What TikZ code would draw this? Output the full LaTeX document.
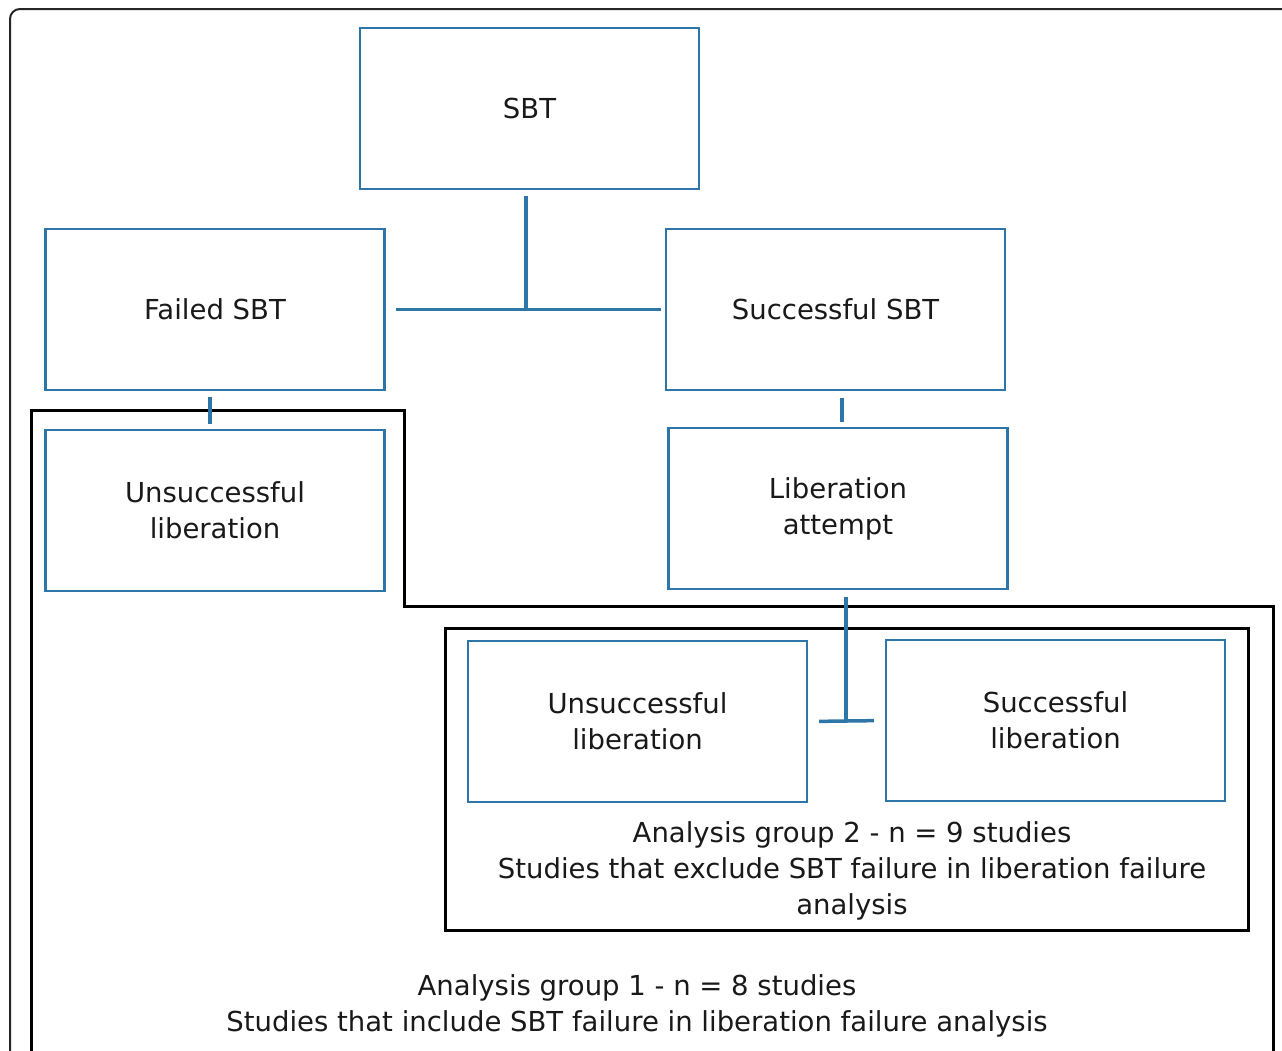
\documentclass[tikz,border=0pt]{standalone}
\usepackage{fontspec}
\setmainfont{DejaVu Sans}
\definecolor{boxblue}{RGB}{46,117,168}
\definecolor{txt}{RGB}{25,25,25}
\tikzset{
  stage/.style={draw=boxblue, line width=2.2pt, minimum width=339pt, minimum height=161pt, align=center, inner sep=0pt},
  link/.style={draw=boxblue, line width=3.5pt},
  grp/.style={draw=black, line width=3pt},
}
\begin{document}
\begin{tikzpicture}[x=1pt,y=-1pt,font=\fontsize{27.5}{36}\selectfont,text=txt]
\useasboundingbox (0,0) rectangle (1282,1050);
\clip (0,0) rectangle (1282,1050);
\draw[line width=2pt, rounded corners=10pt, draw=black!85] (10,9) rectangle (1300,1070);
% groups
\draw[grp] (31,1070) |- (404,410) |- (1273,606) -- (1273,1070);
\draw[grp] (445,628) rectangle (1248,930);
% stages
\node[stage] (sbt) at (529.5,108.5) {SBT};
\node[stage] (failed) at (215,309.5) {Failed SBT};
\node[stage] (success) at (835.5,309.5) {Successful SBT};
\node[stage] (unsuccA) at (215,510.5) {Unsuccessful\\liberation};
\node[stage] (attempt) at (838,508.5) {Liberation\\attempt};
\node[stage] (unsuccB) at (637.5,721.5) {Unsuccessful\\liberation};
\node[stage] (successB) at (1055.5,720.5) {Successful\\liberation};
% connectors
\draw[link, shorten >=4pt, shorten <=10pt] (failed.east) -- (success.west);
\draw[link, shorten <=6pt] ([xshift=-3.5pt]sbt.south) -- ([xshift=-3.5pt]sbt.south |- failed.east);
\draw[link, shorten <=6pt, shorten >=5pt] ([xshift=-5pt]failed.south) -- ([xshift=-5pt]unsuccA.north);
\draw[link, shorten <=7pt, shorten >=5pt] ([xshift=6.5pt]success.south) -- ([xshift=6.5pt]success.south |- attempt.north);
\draw[link, shorten <=7pt] ([xshift=8pt]attempt.south) -- ([xshift=8pt]attempt.south |- unsuccB.east);
\draw[link, shorten <=11pt, shorten >=11pt] (unsuccB.east) -- (successB.west);
% labels
\node[align=center] (grp2) at (852,871) {Analysis group 2 - n = 9 studies\\Studies that exclude SBT failure in liberation failure\\analysis};
\node[align=center] (grp1) at (637,1006) {Analysis group 1 - n = 8 studies\\Studies that include SBT failure in liberation failure analysis};
\end{tikzpicture}
\end{document}
